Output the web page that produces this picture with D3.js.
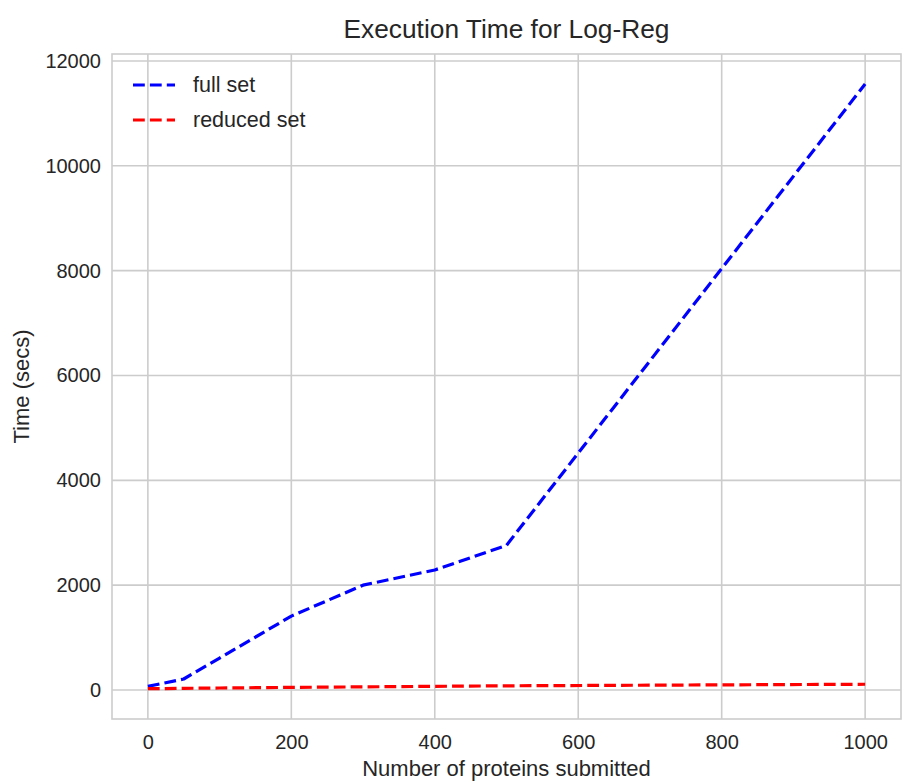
<html>
<head>
<meta charset="UTF-8">
<title>Execution Time for Log-Reg</title>
<script src="https://d3js.org/d3.v7.min.js"></script>
<style>
 body { margin: 0; background: white; }
 text { font-family: "Liberation Sans", Arial, sans-serif; fill: #262626; }
</style>
</head>
<body>
<svg width="903" height="784"></svg>
<script>
// data
var proteins = [0, 50, 100, 200, 300, 400, 500, 1000];
var fullSet = [70, 210, 610, 1410, 2000, 2290, 2760, 11560];
var reducedSet = [25, 32, 38, 50, 60, 70, 80, 110];
var seriesNames = ["full set", "reduced set"];
var seriesColors = ["#0000ff", "#ff0000"];
var xTicks = [0, 200, 400, 600, 800, 1000];
var yTicks = [0, 2000, 4000, 6000, 8000, 10000, 12000];

var svg = d3.select("svg");
var margin = {top: 54, right: 2, bottom: 65, left: 112};
var W = 903, H = 784;

var xScale = d3.scaleLinear().domain([-50, 1050]).range([margin.left, W - margin.right]);
var yScale = d3.scaleLinear().domain([-553, 12133]).range([H - margin.bottom, margin.top]);

var gridColor = "#cccccc";

// grid lines
svg.append("g").selectAll("line").data(xTicks).enter().append("line")
  .attr("x1", function(d) { return xScale(d); })
  .attr("x2", function(d) { return xScale(d); })
  .attr("y1", margin.top).attr("y2", H - margin.bottom)
  .style("stroke", gridColor).style("stroke-width", 1.6);

svg.append("g").selectAll("line").data(yTicks).enter().append("line")
  .attr("y1", function(d) { return yScale(d); })
  .attr("y2", function(d) { return yScale(d); })
  .attr("x1", margin.left).attr("x2", W - margin.right)
  .style("stroke", gridColor).style("stroke-width", 1.6);

// frame
svg.append("rect")
  .attr("x", margin.left).attr("y", margin.top)
  .attr("width", W - margin.left - margin.right)
  .attr("height", H - margin.top - margin.bottom)
  .style("fill", "none").style("stroke", gridColor).style("stroke-width", 1.6);

// axes (labels only, seaborn whitegrid has no tick marks)
var xAxis = d3.axisBottom(xScale).tickValues(xTicks).tickSize(0).tickPadding(16).tickFormat(d3.format("d"));
var gx = svg.append("g").attr("transform", "translate(0," + (H - margin.bottom) + ")").call(xAxis);
gx.select(".domain").remove();
gx.selectAll("text").style("font-size", "20px").style("font-family", '"Liberation Sans", Arial, sans-serif').attr("fill", "#262626");

var yAxis = d3.axisLeft(yScale).tickValues(yTicks).tickSize(0).tickPadding(11).tickFormat(d3.format("d"));
var gy = svg.append("g").attr("transform", "translate(" + margin.left + ",0)").call(yAxis);
gy.select(".domain").remove();
gy.selectAll("text").style("font-size", "20px").style("font-family", '"Liberation Sans", Arial, sans-serif').attr("fill", "#262626");

// lines
var line = d3.line()
  .x(function(d) { return xScale(d[0]); })
  .y(function(d) { return yScale(d[1]); });

[fullSet, reducedSet].forEach(function(vals, i) {
  svg.append("path")
    .datum(proteins.map(function(p, j) { return [p, vals[j]]; }))
    .attr("d", line)
    .style("fill", "none")
    .style("stroke", seriesColors[i])
    .style("stroke-width", 3.2)
    .style("stroke-dasharray", "11.8,5.1")
    .style("stroke-linejoin", "round");
});

// legend
var legend = svg.append("g").attr("transform", "translate(133,85)");
seriesNames.forEach(function(name, i) {
  legend.append("line")
    .attr("x1", 0).attr("x2", 42)
    .attr("y1", i * 35).attr("y2", i * 35)
    .style("stroke", seriesColors[i]).style("stroke-width", 3.2)
    .style("stroke-dasharray", "11.8,5.1");
  legend.append("text")
    .attr("x", 60).attr("y", i * 35 + 7)
    .text(name)
    .style("font-size", "21.5px");
});

// title
svg.append("text")
  .attr("x", (margin.left + W - margin.right) / 2).attr("y", 38)
  .attr("text-anchor", "middle")
  .text("Execution Time for Log-Reg")
  .style("font-size", "26.3px");

// x label
svg.append("text")
  .attr("x", (margin.left + W - margin.right) / 2).attr("y", 776)
  .attr("text-anchor", "middle")
  .text("Number of proteins submitted")
  .style("font-size", "22px");

// y label
svg.append("text")
  .attr("transform", "translate(29," + ((margin.top + H - margin.bottom) / 2) + ") rotate(-90)")
  .attr("text-anchor", "middle")
  .text("Time (secs)")
  .style("font-size", "22px");
</script>
</body>
</html>
